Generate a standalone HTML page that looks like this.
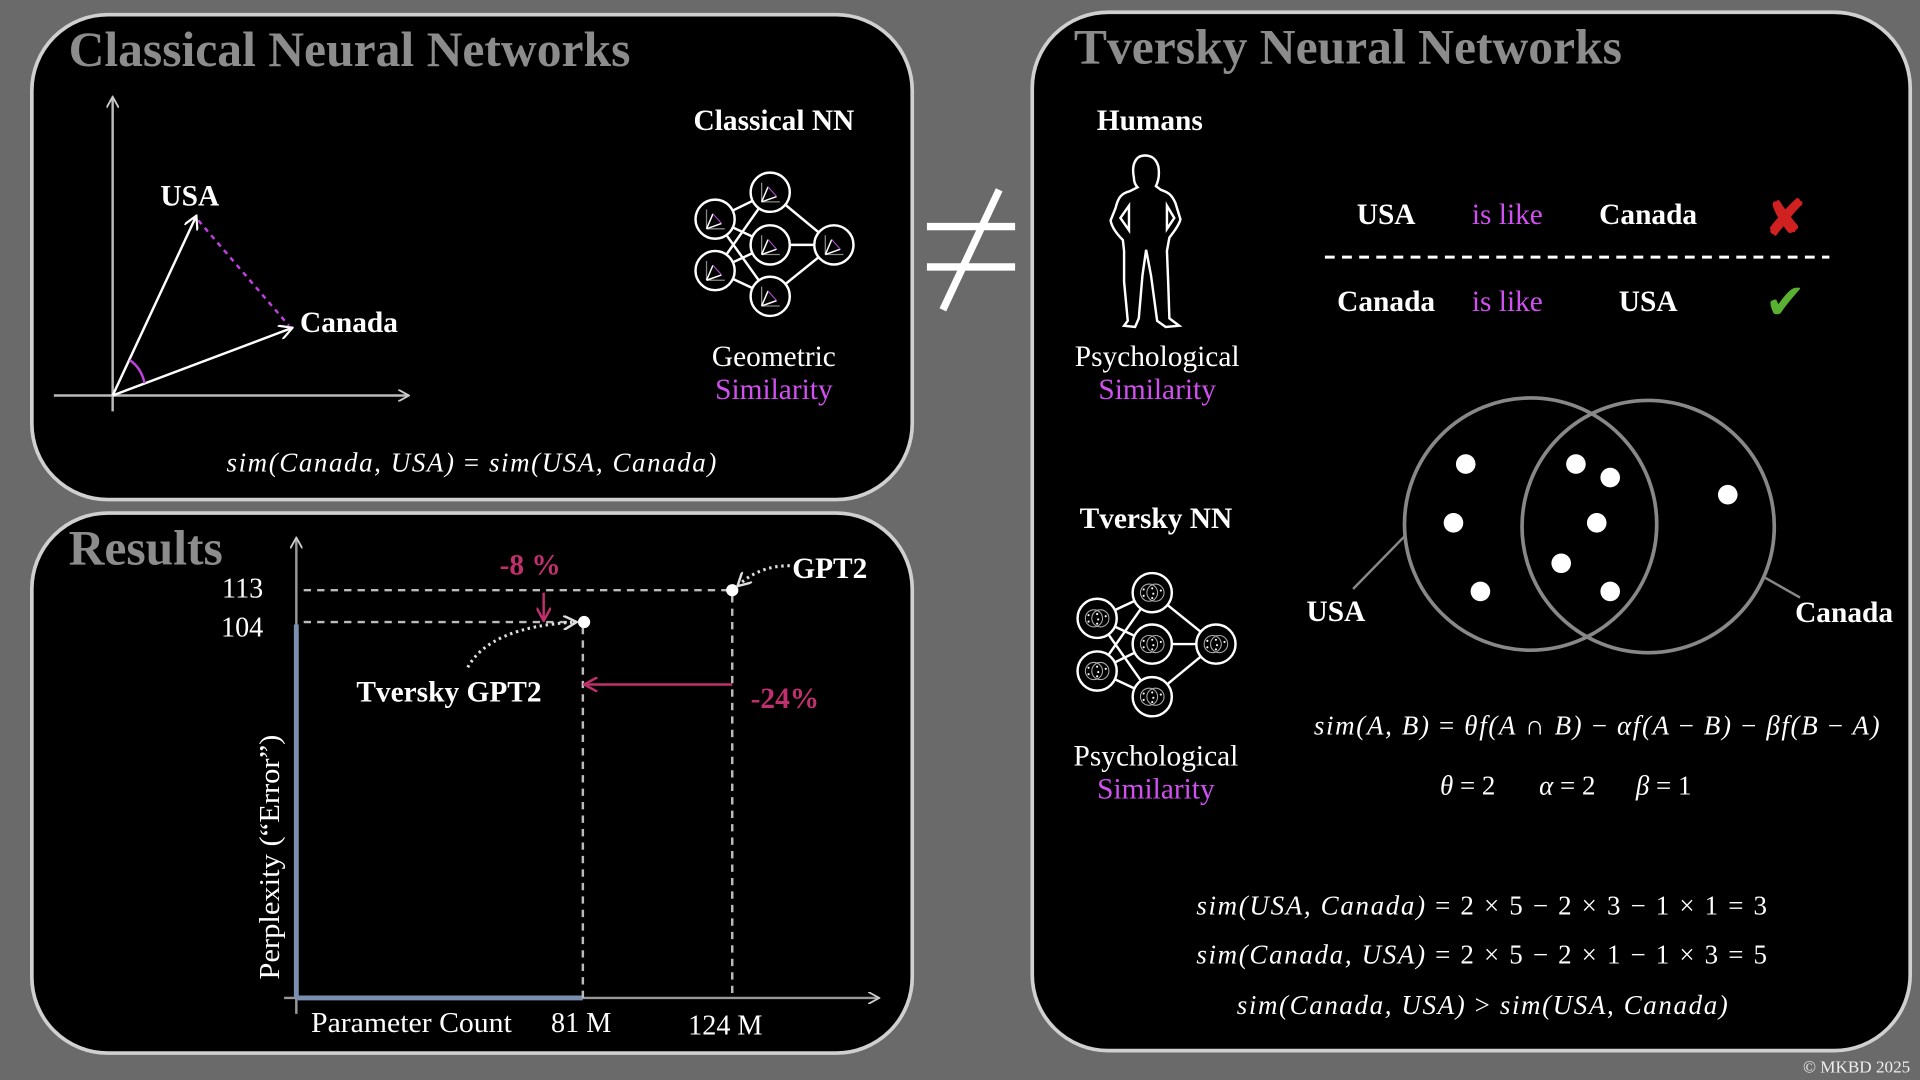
<!DOCTYPE html>
<html><head><meta charset="utf-8"><style>
html,body{margin:0;padding:0;background:#6a6a6a;}
svg{display:block;}
.t{font-family:"Liberation Serif",serif;}
</style></head><body>
<svg width="1920" height="1080" viewBox="0 0 1568 882" xmlns="http://www.w3.org/2000/svg" class="t">
<defs>
<marker id="ah" markerWidth="10" markerHeight="10" refX="8" refY="5" orient="auto" markerUnits="userSpaceOnUse"><path d="M0,0 L9,5 L0,10" fill="none" stroke="#ccc" stroke-width="1.5"/></marker>
<marker id="aw" markerWidth="12" markerHeight="12" refX="10" refY="6" orient="auto" markerUnits="userSpaceOnUse"><path d="M0,0 L11,6 L0,12" fill="none" stroke="#fff" stroke-width="1.8"/></marker>
<marker id="ap" markerWidth="12" markerHeight="12" refX="10" refY="6" orient="auto" markerUnits="userSpaceOnUse"><path d="M0,0 L11,6 L0,12" fill="none" stroke="#c0306e" stroke-width="2"/></marker>
<marker id="ag" markerWidth="12" markerHeight="12" refX="10" refY="6" orient="auto" markerUnits="userSpaceOnUse"><path d="M0,0 L11,6 L0,12" fill="none" stroke="#ddd" stroke-width="2"/></marker>
<symbol id="geo" viewBox="-16 -16 32 32"><path d="M-8,9 V-9 M-8,9 H9" stroke="#888" stroke-width="1.2" fill="none"/><path d="M-8,9 L-2,-5 M-8,9 L6,4" stroke="#fff" stroke-width="1.4"/><path d="M-2,-5 L6,4" stroke="#b04fd0" stroke-width="1"/></symbol>
<symbol id="ven" viewBox="-16 -16 32 32"><circle cx="-3" cy="0" r="8" fill="none" stroke="#aaa" stroke-width="1"/><circle cx="3" cy="0" r="8" fill="none" stroke="#aaa" stroke-width="1"/><g fill="#fff"><circle cx="-8" cy="-3" r="1"/><circle cx="-8" cy="3" r="1"/><circle cx="0" cy="-4" r="1"/><circle cx="1" cy="1" r="1"/><circle cx="0" cy="5" r="1"/><circle cx="8" cy="-2" r="1"/></g></symbol>
</defs>
<rect width="1568" height="882" fill="#6a6a6a"/>
<rect x="26" y="12" width="719" height="396" rx="62" fill="#000" stroke="#d0d0d0" stroke-width="3"/>
<rect x="26" y="419" width="719" height="441" rx="62" fill="#000" stroke="#d0d0d0" stroke-width="3"/>
<rect x="843" y="10" width="717" height="848" rx="62" fill="#000" stroke="#d0d0d0" stroke-width="3"/>
<text x="56" y="54" font-size="40.5" font-weight="bold" fill="#8c8c8c">Classical Neural Networks</text>
<text x="56" y="461" font-size="40.5" font-weight="bold" fill="#8c8c8c">Results</text>
<text x="877" y="52" font-size="40.5" font-weight="bold" fill="#8c8c8c">Tversky Neural Networks</text>
<line x1="92" y1="336" x2="92" y2="80" stroke="#bbb" stroke-width="2" marker-end="url(#ah)"/>
<line x1="44" y1="323" x2="333" y2="323" stroke="#bbb" stroke-width="2" marker-end="url(#ah)"/>
<line x1="92" y1="323" x2="160" y2="177" stroke="#fff" stroke-width="2" marker-end="url(#aw)"/>
<line x1="92" y1="323" x2="238" y2="268" stroke="#fff" stroke-width="2" marker-end="url(#aw)"/>
<line x1="162" y1="180" x2="236" y2="266" stroke="#c040e0" stroke-width="2" stroke-dasharray="4,4"/>
<path d="M106,294 A30,30 0 0 1 118,313" fill="none" stroke="#c040e0" stroke-width="2"/>
<text x="131" y="168" font-size="24" font-weight="bold" fill="#fff">USA</text>
<text x="245" y="271" font-size="24" font-weight="bold" fill="#fff">Canada</text>
<text x="632" y="106" font-size="24" font-weight="bold" fill="#fff" text-anchor="middle">Classical NN</text>
<g stroke="#fff" stroke-width="2">
<line x1="584" y1="179" x2="629" y2="157"/><line x1="584" y1="179" x2="629" y2="200"/><line x1="584" y1="179" x2="629" y2="242"/>
<line x1="584" y1="221" x2="629" y2="157"/><line x1="584" y1="221" x2="629" y2="200"/><line x1="584" y1="221" x2="629" y2="242"/>
<line x1="629" y1="157" x2="681" y2="200"/><line x1="629" y1="200" x2="681" y2="200"/><line x1="629" y1="242" x2="681" y2="200"/>
</g>
<g fill="#000" stroke="#fff" stroke-width="2">
<circle cx="584" cy="179" r="16"/><circle cx="584" cy="221" r="16"/><circle cx="629" cy="157" r="16"/><circle cx="629" cy="200" r="16"/><circle cx="629" cy="242" r="16"/><circle cx="681" cy="200" r="16"/>
</g>
<use href="#geo" x="570" y="165" width="28" height="28"/><use href="#geo" x="570" y="207" width="28" height="28"/><use href="#geo" x="615" y="143" width="28" height="28"/><use href="#geo" x="615" y="186" width="28" height="28"/><use href="#geo" x="615" y="228" width="28" height="28"/><use href="#geo" x="667" y="186" width="28" height="28"/>
<text x="632" y="299" font-size="24" fill="#fff" text-anchor="middle">Geometric</text>
<text x="632" y="326" font-size="24" fill="#d050f0" text-anchor="middle">Similarity</text>
<text x="185" y="385" font-size="22" fill="#fff" font-style="italic" textLength="400" lengthAdjust="spacing">sim(Canada, USA) <tspan font-style="normal">=</tspan> sim(USA, Canada)</text>
<g stroke="#fff" stroke-width="6"><line x1="757" y1="185" x2="829" y2="185"/><line x1="757" y1="218" x2="829" y2="218"/><line x1="816" y1="155" x2="770" y2="253"/></g>
<line x1="242" y1="828" x2="242" y2="440" stroke="#999" stroke-width="2" marker-end="url(#ah)"/>
<line x1="232" y1="815" x2="717" y2="815" stroke="#999" stroke-width="2" marker-end="url(#ah)"/>
<line x1="242" y1="510" x2="242" y2="815" stroke="#7a8eb0" stroke-width="4"/>
<line x1="242" y1="815" x2="476" y2="815" stroke="#7a8eb0" stroke-width="4"/>
<g stroke="#bbb" stroke-width="2" stroke-dasharray="6,5" fill="none">
<line x1="248" y1="482" x2="598" y2="482"/><line x1="248" y1="508" x2="470" y2="508"/>
<line x1="476" y1="512" x2="476" y2="815"/><line x1="598" y1="486" x2="598" y2="815"/>
</g>
<circle cx="598" cy="482" r="5" fill="#fff"/><circle cx="477" cy="508" r="5" fill="#fff"/>
<path d="M382,545 Q400,512 470,508" fill="none" stroke="#ddd" stroke-width="2.5" stroke-dasharray="2,3" marker-end="url(#ag)"/>
<path d="M645,462 Q620,462 603,478" fill="none" stroke="#ddd" stroke-width="2.5" stroke-dasharray="2,3" marker-end="url(#ag)"/>
<line x1="444" y1="484" x2="444" y2="506" stroke="#c0306e" stroke-width="2" marker-end="url(#ap)"/>
<line x1="598" y1="559" x2="478" y2="559" stroke="#c0306e" stroke-width="2" marker-end="url(#ap)"/>
<text x="433" y="469" font-size="24" font-weight="bold" fill="#c0306e" text-anchor="middle">-8 %</text>
<text x="613" y="578" font-size="24" font-weight="bold" fill="#c0306e">-24%</text>
<text x="647" y="472" font-size="24" font-weight="bold" fill="#fff">GPT2</text>
<text x="291" y="573" font-size="24" font-weight="bold" fill="#fff">Tversky GPT2</text>
<text x="215" y="488" font-size="23" fill="#fff" text-anchor="end">113</text>
<text x="215" y="520" font-size="23" fill="#fff" text-anchor="end">104</text>
<text x="254" y="843" font-size="23" fill="#fff" textLength="164" lengthAdjust="spacingAndGlyphs">Parameter Count</text>
<text x="450" y="843" font-size="23" fill="#fff">81 M</text>
<text x="562" y="845" font-size="23" fill="#fff">124 M</text>
<text transform="translate(228,800) rotate(-90)" font-size="23" fill="#fff" textLength="200" lengthAdjust="spacingAndGlyphs">Perplexity (“Error”)</text>
<text x="939" y="106" font-size="24" font-weight="bold" fill="#fff" text-anchor="middle">Humans</text>
<path d="M935,127 C927,127 924,135 926,145 C926,150 928,152 929,153 L923,156 C915,158 913,162 911,170 L907,180 C908,186 913,192 917,196 L918,205 L918,230 L921,262 L918,266 L927,267 L930,260 L933,225 L936,204 L940,225 L945,262 L952,267 L963,266 L955,260 L954,230 L953,205 L955,194 C958,190 963,184 964,179 L960,166 C957,159 954,157 948,155 L944,152 C946,148 947,142 946,136 C944,129 940,127 935,127 Z M915,178 L922,168 L922,188 Z M953,168 L959,178 L953,187 Z" fill="none" stroke="#fff" stroke-width="2"/>
<text x="945" y="299" font-size="24" fill="#fff" text-anchor="middle">Psychological</text>
<text x="945" y="326" font-size="24" fill="#d050f0" text-anchor="middle">Similarity</text>
<text x="1132" y="183" font-size="24" font-weight="bold" fill="#fff" text-anchor="middle">USA</text>
<text x="1231" y="183" font-size="24" fill="#d050f0" text-anchor="middle">is like</text>
<text x="1346" y="183" font-size="24" font-weight="bold" fill="#fff" text-anchor="middle">Canada</text>
<text x="1458" y="192" font-size="40" font-weight="bold" fill="#d02020" text-anchor="middle">✘</text>
<line x1="1082" y1="210" x2="1494" y2="210" stroke="#fff" stroke-width="2.5" stroke-dasharray="8,6"/>
<text x="1132" y="254" font-size="24" font-weight="bold" fill="#fff" text-anchor="middle">Canada</text>
<text x="1231" y="254" font-size="24" fill="#d050f0" text-anchor="middle">is like</text>
<text x="1346" y="254" font-size="24" font-weight="bold" fill="#fff" text-anchor="middle">USA</text>
<text x="1458" y="260" font-size="40" fill="#5ab030" text-anchor="middle">✔</text>
<circle cx="1250" cy="428" r="103" fill="none" stroke="#888" stroke-width="3"/>
<circle cx="1346" cy="430" r="103" fill="none" stroke="#888" stroke-width="3"/>
<g fill="#fff"><circle cx="1197" cy="379" r="8"/><circle cx="1187" cy="427" r="8"/><circle cx="1209" cy="483" r="8"/><circle cx="1287" cy="379" r="8"/><circle cx="1315" cy="390" r="8"/><circle cx="1304" cy="427" r="8"/><circle cx="1275" cy="460" r="8"/><circle cx="1315" cy="483" r="8"/><circle cx="1411" cy="404" r="8"/></g>
<line x1="1105" y1="481" x2="1147" y2="438" stroke="#888" stroke-width="2"/>
<line x1="1440" y1="471" x2="1470" y2="488" stroke="#888" stroke-width="2"/>
<text x="1091" y="507" font-size="24" font-weight="bold" fill="#fff" text-anchor="middle">USA</text>
<text x="1506" y="508" font-size="24" font-weight="bold" fill="#fff" text-anchor="middle">Canada</text>
<text x="944" y="431" font-size="24" font-weight="bold" fill="#fff" text-anchor="middle">Tversky NN</text>
<g stroke="#fff" stroke-width="2">
<line x1="896" y1="505" x2="941" y2="484"/><line x1="896" y1="505" x2="941" y2="526"/><line x1="896" y1="505" x2="941" y2="569"/>
<line x1="896" y1="548" x2="941" y2="484"/><line x1="896" y1="548" x2="941" y2="526"/><line x1="896" y1="548" x2="941" y2="569"/>
<line x1="941" y1="484" x2="993" y2="526"/><line x1="941" y1="526" x2="993" y2="526"/><line x1="941" y1="569" x2="993" y2="526"/>
</g>
<g fill="#000" stroke="#fff" stroke-width="2">
<circle cx="896" cy="505" r="16"/><circle cx="896" cy="548" r="16"/><circle cx="941" cy="484" r="16"/><circle cx="941" cy="526" r="16"/><circle cx="941" cy="569" r="16"/><circle cx="993" cy="526" r="16"/>
</g>
<use href="#ven" x="882" y="491" width="28" height="28"/><use href="#ven" x="882" y="534" width="28" height="28"/><use href="#ven" x="927" y="470" width="28" height="28"/><use href="#ven" x="927" y="512" width="28" height="28"/><use href="#ven" x="927" y="555" width="28" height="28"/><use href="#ven" x="979" y="512" width="28" height="28"/>
<text x="944" y="625" font-size="24" fill="#fff" text-anchor="middle">Psychological</text>
<text x="944" y="652" font-size="24" fill="#d050f0" text-anchor="middle">Similarity</text>
<g font-size="22" fill="#fff" font-style="italic">
<text x="1073" y="600" textLength="462" lengthAdjust="spacing">sim(A, B) <tspan font-style="normal">=</tspan> θf(A <tspan font-style="normal">∩</tspan> B) <tspan font-style="normal">−</tspan> αf(A <tspan font-style="normal">−</tspan> B) <tspan font-style="normal">−</tspan> βf(B <tspan font-style="normal">−</tspan> A)</text>
<text x="1176" y="649">θ <tspan font-style="normal">= 2</tspan></text>
<text x="1257" y="649">α <tspan font-style="normal">= 2</tspan></text>
<text x="1336" y="649">β <tspan font-style="normal">= 1</tspan></text>
<text x="977" y="747" textLength="466" lengthAdjust="spacing">sim(USA, Canada) <tspan font-style="normal">= 2 × 5 − 2 × 3 − 1 × 1 = 3</tspan></text>
<text x="977" y="787" textLength="466" lengthAdjust="spacing">sim(Canada, USA) <tspan font-style="normal">= 2 × 5 − 2 × 1 − 1 × 3 = 5</tspan></text>
<text x="1010" y="828" textLength="401" lengthAdjust="spacing">sim(Canada, USA) <tspan font-style="normal">&gt;</tspan> sim(USA, Canada)</text>
</g>
<text x="1560" y="876" font-size="14" fill="#eee" text-anchor="end">©  MKBD 2025</text>
</svg>
</body></html>
